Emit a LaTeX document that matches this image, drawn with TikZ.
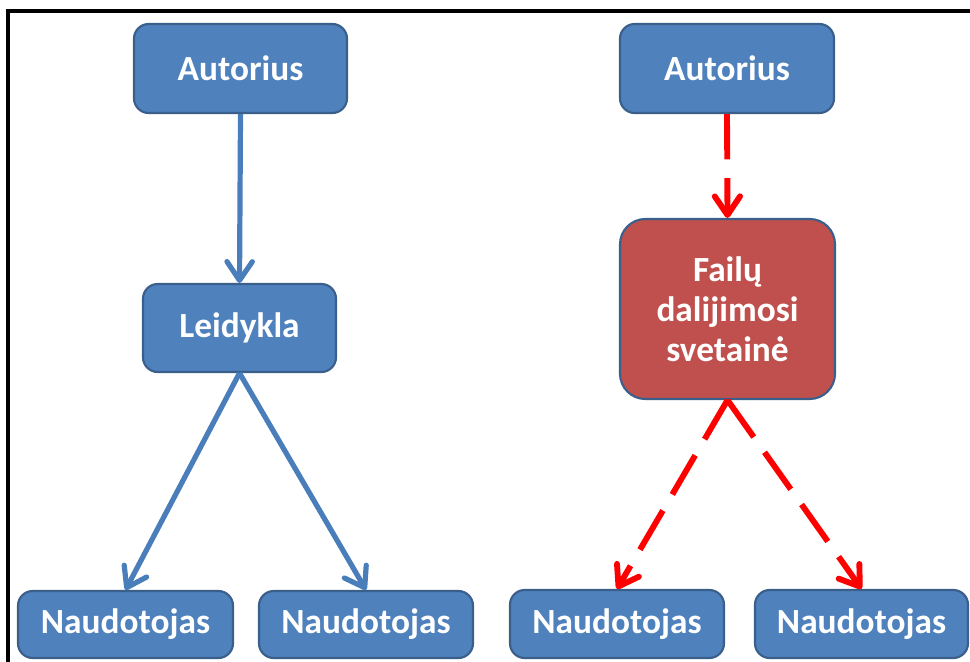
\documentclass[tikz,border=0pt]{standalone}
\usepackage{fontspec}
\setmainfont{Carlito}
\usetikzlibrary{arrows.meta}
\definecolor{boxblue}{HTML}{4F81BD}
\definecolor{boxred}{HTML}{C0504D}
\definecolor{edgeblue}{HTML}{3A5F8B}
\definecolor{arrowblue}{HTML}{4A7EBB}
\definecolor{arrowred}{HTML}{FF0000}
\tikzset{
  box/.style={draw=edgeblue, line width=1.6pt, fill=boxblue, rounded corners=11pt,
    text=white, font=\bfseries\fontsize{26.5}{30}\selectfont, align=center,
    inner sep=0pt},
  redbox/.style={box, fill=boxred, rounded corners=19pt},
  bluearrow/.style={draw=arrowblue, line width=3.9pt,
    -{Straight Barb[length=14pt,width=19pt,line width=3.9pt,round]}},
  redarrow/.style={draw=arrowred, line width=4.4pt, dash pattern=on 34pt off 14pt,
    -{Straight Barb[length=14pt,width=19pt,line width=4.4pt,round]}},
}
\begin{document}
\begin{tikzpicture}[x=0.75pt,y=-0.75pt]
\useasboundingbox (0,0) rectangle (970,661);
\draw[line width=2.4pt, line cap=rect] (8,664) -- (8,11) -- (972,11);

\node[box, minimum width=213*0.75pt, minimum height=89*0.75pt] (aL) at (240.5,68.5) {Autorius};
\node[box, minimum width=193*0.75pt, minimum height=88*0.75pt] (lei) at (239.5,328) {Leidykla};
\node[box, minimum width=215*0.75pt, minimum height=67*0.75pt] (nL1) at (125.5,624.5) {Naudotojas};
\node[box, minimum width=214*0.75pt, minimum height=67*0.75pt] (nL2) at (366,624.5) {Naudotojas};

\node[box, minimum width=214*0.75pt, minimum height=89*0.75pt] (aR) at (727,68.5) {Autorius};
\node[redbox, minimum width=215*0.75pt, minimum height=180*0.75pt] (fs) at (727.5,309) {Failų\\dalijimosi\\svetainė};
\node[box, minimum width=214*0.75pt, minimum height=68*0.75pt] (nR1) at (617,624) {Naudotojas};
\node[box, minimum width=213*0.75pt, minimum height=68*0.75pt] (nR2) at (861.5,624) {Naudotojas};

\draw[bluearrow] (aL.south) -- (lei.north);
\draw[bluearrow] (lei.south) -- (nL1.north);
\draw[bluearrow] (lei.south) -- (nL2.north);

\draw[redarrow] (aR.south) -- (fs.north);
\draw[redarrow] (fs.south) -- (nR1.north);
\draw[redarrow] (fs.south) -- (nR2.north);
\end{tikzpicture}
\end{document}
